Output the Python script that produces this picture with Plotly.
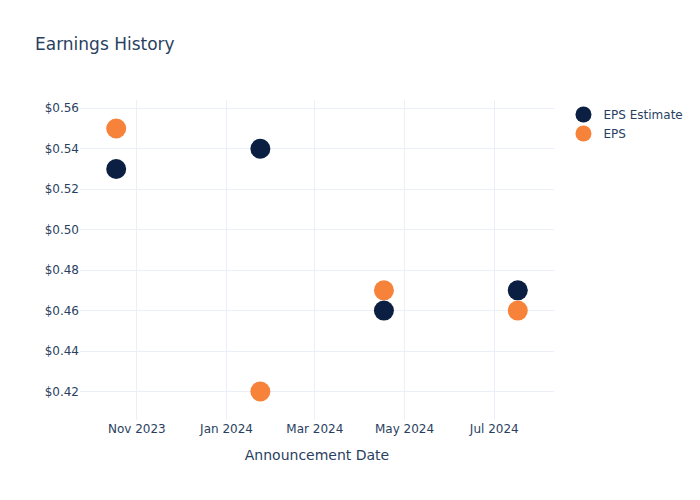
import plotly.graph_objects as go

dates = ["2023-10-18", "2024-01-24", "2024-04-17", "2024-07-17"]
eps_estimate = [0.53, 0.54, 0.46, 0.47]
eps_actual = [0.55, 0.42, 0.47, 0.46]

fig = go.Figure()
fig.add_trace(go.Scatter(x=dates, y=eps_estimate, mode="markers", name="EPS Estimate",
                         marker=dict(color="#0b1f42", size=20)))
fig.add_trace(go.Scatter(x=dates, y=eps_actual, mode="markers", name="EPS",
                         marker=dict(color="#f7833a", size=20)))
fig.update_layout(
    template="plotly_white",
    font=dict(family="DejaVu Sans"),
    title=dict(text="Earnings History"),
    xaxis=dict(title=dict(text="Announcement Date"), dtick="M2", tickformat="%b %Y"),
    yaxis=dict(tickprefix="$", tickformat=".2f"),
    width=700, height=500,
)
fig.write_html("out.html")
